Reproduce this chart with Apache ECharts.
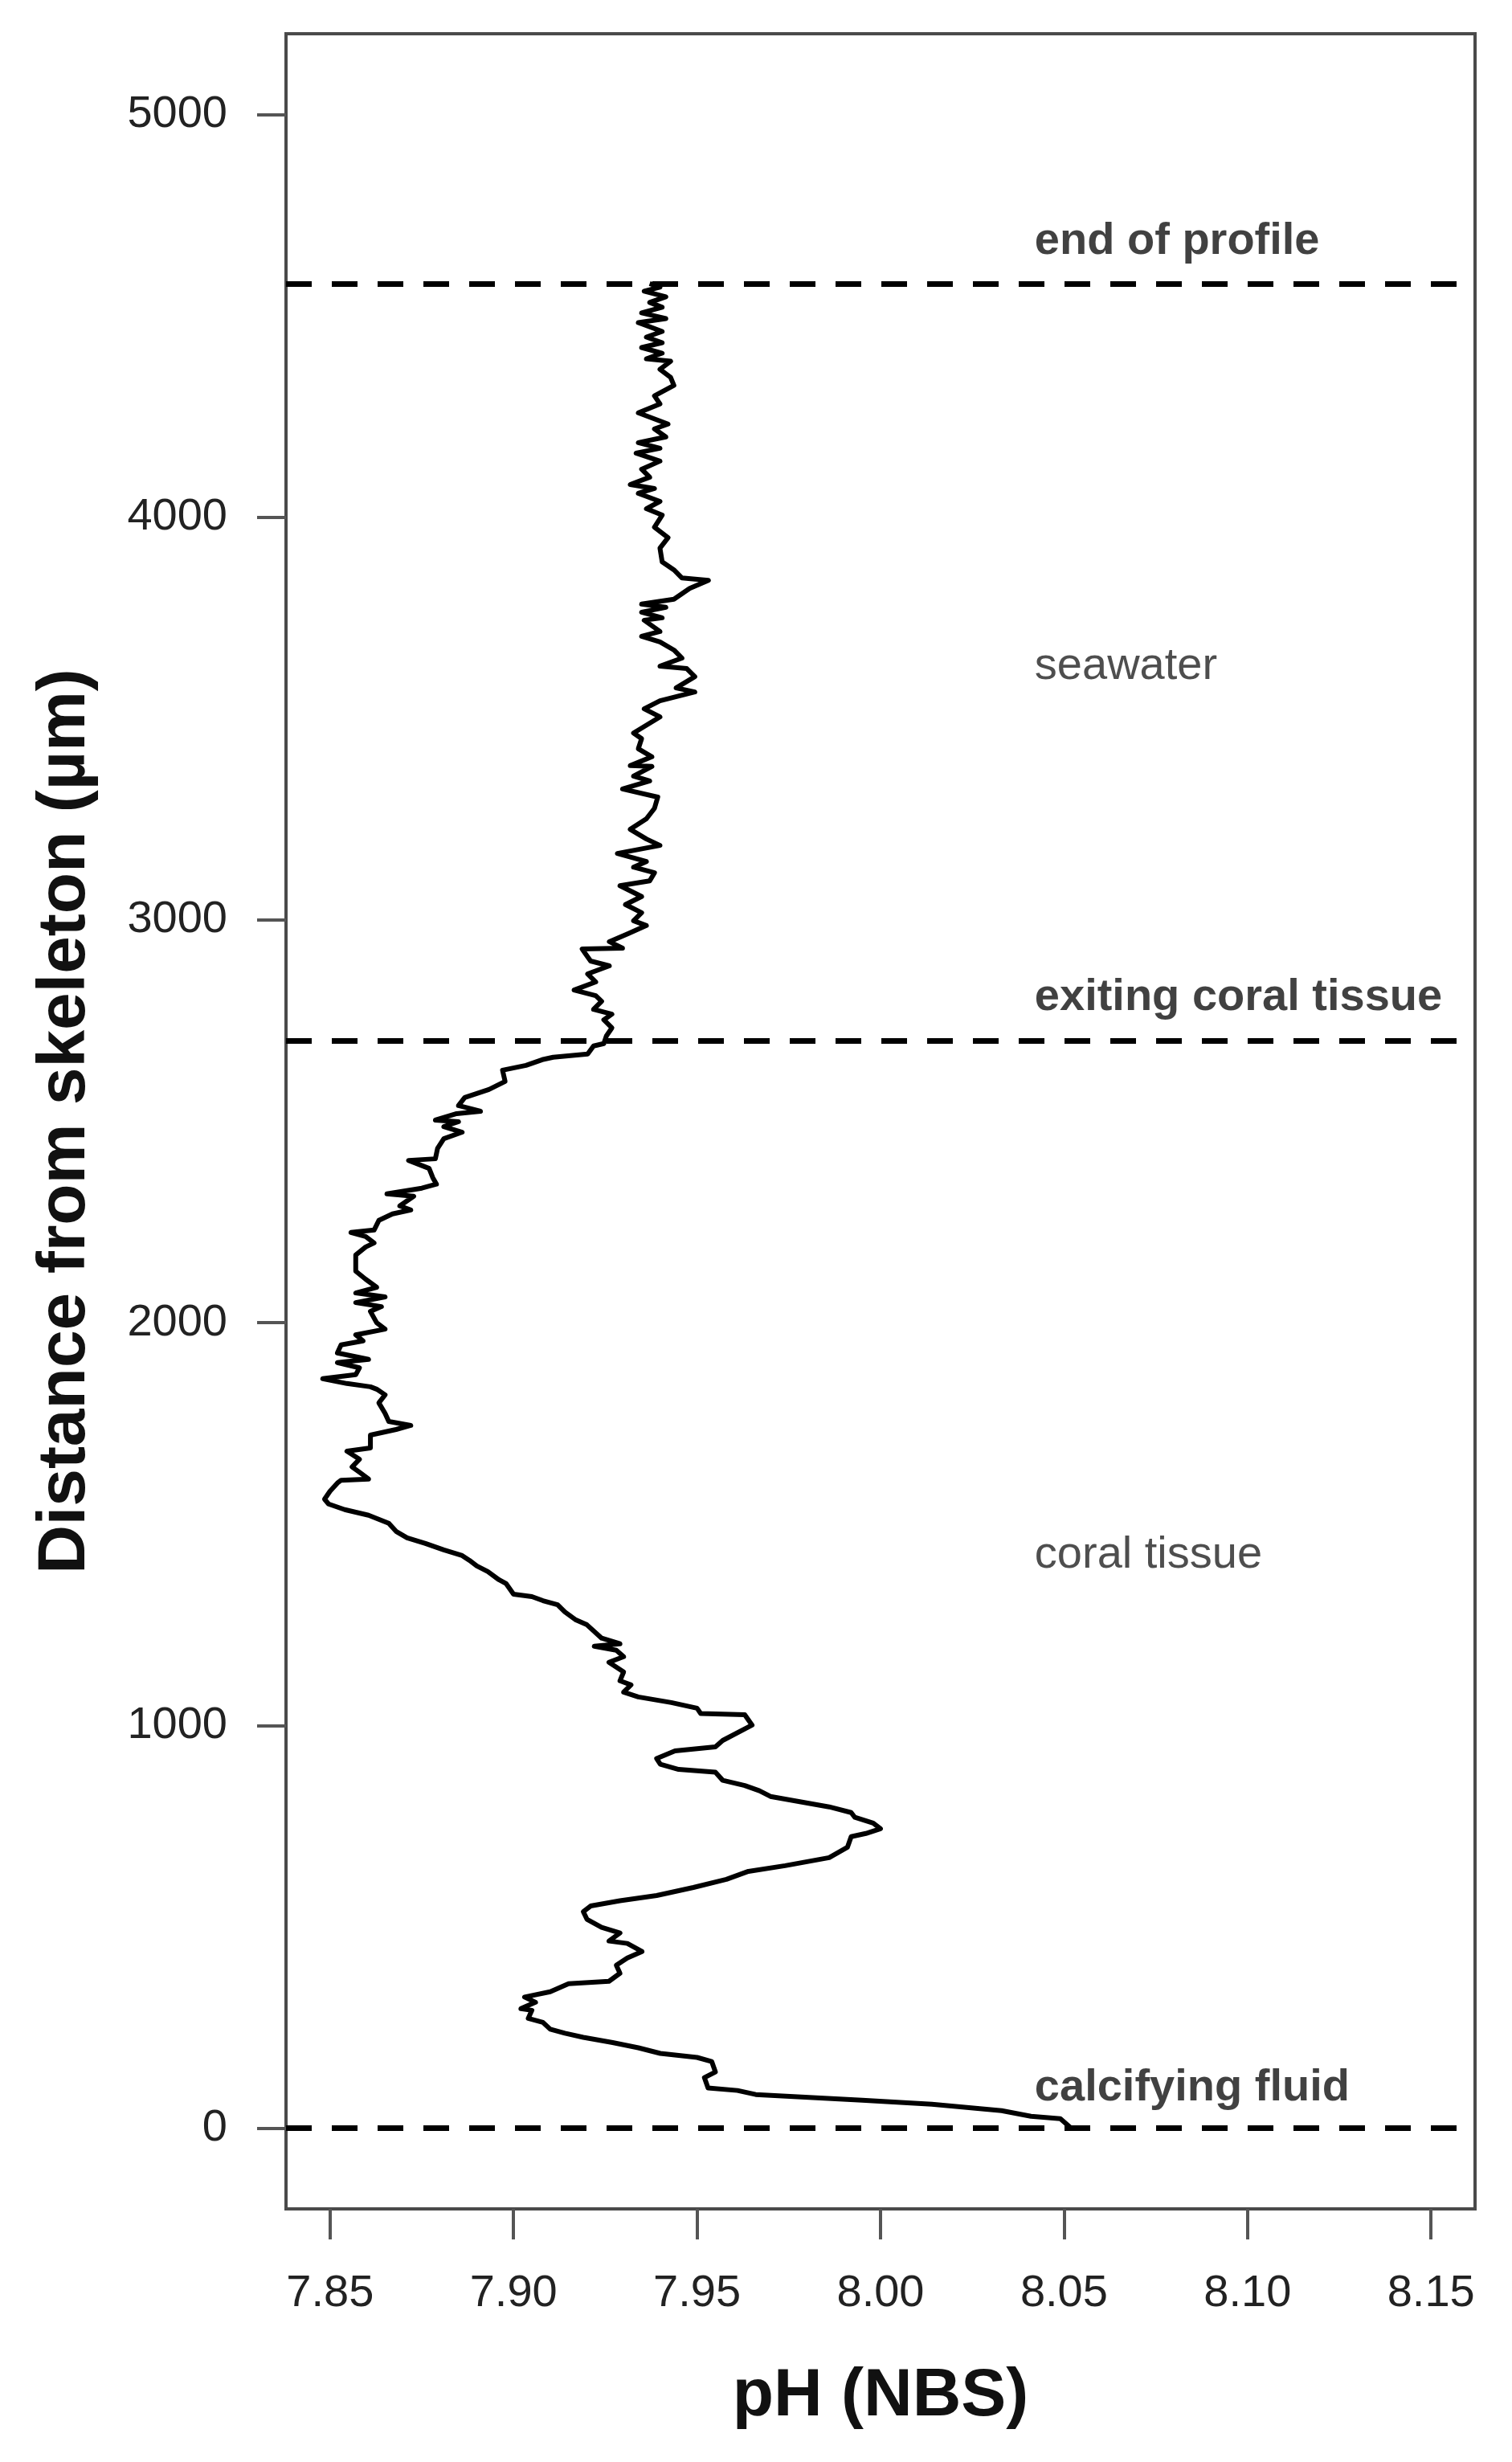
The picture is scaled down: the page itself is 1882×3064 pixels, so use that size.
<!DOCTYPE html>
<html>
<head>
<meta charset="utf-8">
<script src="https://cdn.jsdelivr.net/npm/echarts@6/dist/echarts.min.js"></script>
<style>
html,body{margin:0;padding:0;background:#fff;}
#chart{width:1882px;height:3064px;}
</style>
</head>
<body>
<div id="chart"></div>
<script>
// Distance from skeleton (µm)
const distance = [0,24,30,44,60,70,84,94,100,126,140,166,176,186,200,213,226,236,246,263,273,293,297,313,326,339,359,365,385,405,423,439,459,465,485,499,519,538,552,565,578,598,618,638,652,672,698,724,732,744,758,772,784,798,811,824,838,851,864,884,891,904,918,937,947,963,1001,1027,1030,1043,1057,1071,1083,1101,1111,1133,1157,1171,1187,1197,1203,1217,1250,1262,1282,1300,1310,1320,1326,1352,1362,1382,1396,1410,1422,1436,1452,1466,1482,1502,1522,1536,1550,1562,1582,1602,1609,1612,1629,1642,1661,1681,1689,1721,1735,1745,1755,1775,1801,1821,1835,1841,1849,1861,1871,1888,1901,1909,1925,1945,1955,1970,1984,2000,2028,2040,2050,2064,2074,2088,2108,2128,2154,2168,2188,2198,2214,2224,2230,2254,2270,2280,2290,2314,2320,2334,2344,2360,2383,2403,2407,2433,2457,2473,2487,2499,2503,2519,2525,2539,2559,2579,2599,2627,2639,2653,2659,2667,2687,2693,2712,2732,2752,2766,2778,2798,2812,2826,2846,2866,2886,2898,2916,2928,2930,2946,2966,2986,2998,3018,3038,3058,3085,3097,3117,3131,3145,3165,3185,3201,3225,3251,3277,3305,3325,3345,3357,3381,3383,3405,3425,3450,3464,3504,3524,3544,3566,3576,3604,3624,3630,3650,3670,3690,3704,3716,3744,3750,3764,3776,3784,3796,3823,3843,3849,3869,3889,3923,3949,3975,4005,4021,4039,4059,4071,4081,4099,4119,4139,4159,4171,4185,4199,4219,4231,4259,4281,4301,4327,4347,4367,4387,4393,4407,4421,4433,4447,4461,4483,4493,4507,4521,4533,4547,4561,4571,4580];
// pH (NBS)
const ph = [8.052,8.049,8.041,8.033,8.014,7.995,7.966,7.961,7.953,7.952,7.955,7.954,7.950,7.940,7.934,7.927,7.919,7.914,7.910,7.908,7.904,7.905,7.902,7.906,7.903,7.910,7.915,7.926,7.929,7.928,7.931,7.935,7.931,7.926,7.929,7.924,7.920,7.919,7.921,7.929,7.939,7.949,7.958,7.964,7.974,7.986,7.991,7.992,7.996,8.000,7.998,7.993,7.992,7.986,7.978,7.970,7.967,7.963,7.957,7.955,7.945,7.940,7.939,7.944,7.955,7.957,7.965,7.963,7.951,7.950,7.943,7.934,7.930,7.932,7.929,7.930,7.926,7.930,7.928,7.922,7.929,7.924,7.920,7.917,7.914,7.912,7.908,7.905,7.900,7.898,7.896,7.893,7.890,7.888,7.886,7.881,7.876,7.871,7.868,7.866,7.8605,7.854,7.8496,7.8485,7.850,7.852,7.853,7.8605,7.858,7.856,7.858,7.8546,7.861,7.861,7.868,7.872,7.866,7.865,7.8633,7.865,7.8627,7.861,7.8546,7.848,7.857,7.858,7.852,7.8605,7.852,7.853,7.859,7.857,7.865,7.8627,7.861,7.864,7.857,7.865,7.857,7.8627,7.8597,7.857,7.857,7.857,7.8597,7.862,7.8597,7.8557,7.862,7.8633,7.867,7.872,7.869,7.8728,7.8655,7.875,7.879,7.878,7.877,7.8714,7.8787,7.8793,7.881,7.886,7.881,7.885,7.8787,7.8845,7.891,7.885,7.8867,7.8933,7.8977,7.897,7.9034,7.9078,7.9108,7.9202,7.9218,7.9246,7.9253,7.9268,7.9246,7.9268,7.9218,7.924,7.9224,7.9165,7.9224,7.9202,7.9261,7.921,7.9196,7.9187,7.9297,7.9261,7.9312,7.9362,7.9327,7.9349,7.9305,7.9349,7.929,7.9371,7.9384,7.9327,7.9362,7.9283,7.9399,7.9362,7.9318,7.9362,7.9384,7.9393,7.9297,7.9371,7.9327,7.9377,7.9318,7.9377,7.934,7.9349,7.9327,7.9399,7.9356,7.9399,7.9494,7.9443,7.9494,7.9472,7.9399,7.9459,7.9437,7.9399,7.9349,7.9399,7.9356,7.9405,7.9349,7.9415,7.9349,7.9437,7.948,7.9531,7.9459,7.9437,7.9405,7.9399,7.9421,7.9384,7.9405,7.9362,7.9399,7.934,7.9384,7.9318,7.9371,7.9349,7.9399,7.9334,7.9399,7.934,7.9415,7.9384,7.9421,7.934,7.9399,7.9384,7.9437,7.9428,7.9399,7.9428,7.9362,7.9405,7.9349,7.9405,7.9362,7.9405,7.934,7.9415,7.9349,7.9405,7.9371,7.9415,7.9356,7.9399,7.9371];

// Axis ticks
const xTicks = [7.85, 7.90, 7.95, 8.00, 8.05, 8.10, 8.15];
const yTicks = [0, 1000, 2000, 3000, 4000, 5000];

// Dashed boundary lines (µm)
const boundaryDepths = [0, 2700, 4580];

// Annotations
const boldNotes = ['end of profile', 'exiting coral tissue', 'calcifying fluid'];
const boldNoteDepths = [4685, 2808, 100];
const plainNotes = ['seawater', 'coral tissue'];
const plainNoteDepths = [3628, 1423];
const noteX = 8.042;

const FONT = '"Liberation Sans", Arial, Helvetica, sans-serif';

const chart = echarts.init(document.getElementById('chart'), null, {renderer: 'canvas'});

const lineData = distance.map((d, i) => [ph[i], d]);

function notesSeries(texts, depths, weight, color) {
  return {
    type: 'scatter',
    symbolSize: 0,
    silent: true,
    data: texts.map((t, i) => ({value: [noteX, depths[i]], name: t})),
    label: {
      show: true,
      position: 'right',
      distance: 0,
      formatter: p => p.name,
      fontFamily: FONT,
      fontSize: 56,
      fontWeight: weight,
      color: color
    },
    z: 5
  };
}

chart.setOption({
  animation: false,
  backgroundColor: '#ffffff',
  grid: {
    left: 356, right: 46, top: 42, bottom: 315,
    show: true,
    borderColor: '#4a4a4a',
    borderWidth: 4,
    containLabel: false
  },
  xAxis: {
    type: 'value',
    min: 7.838,
    max: 8.162,
    position: 'bottom',
    name: 'pH (NBS)',
    nameLocation: 'middle',
    nameGap: 192,
    nameTextStyle: {fontFamily: FONT, fontSize: 84, fontWeight: 'bold', color: '#111'},
    axisLine: {show: false, onZero: false},
    splitLine: {show: false},
    axisTick: {show: true, inside: false, length: 38, lineStyle: {color: '#555', width: 4}, customValues: xTicks},
    axisLabel: {
      show: true, margin: 78, fontFamily: FONT, fontSize: 56, color: '#222',
      customValues: xTicks,
      formatter: v => v.toFixed(2)
    }
  },
  yAxis: {
    type: 'value',
    min: -200,
    max: 5200,
    position: 'left',
    name: 'Distance from skeleton (µm)',
    nameLocation: 'middle',
    nameGap: 232,
    nameTextStyle: {fontFamily: FONT, fontSize: 84, fontWeight: 'bold', color: '#111'},
    axisLine: {show: false, onZero: false},
    splitLine: {show: false},
    axisTick: {show: true, inside: false, length: 36, lineStyle: {color: '#555', width: 4}, customValues: yTicks},
    axisLabel: {
      show: true, margin: 73, fontFamily: FONT, fontSize: 56, color: '#222',
      customValues: yTicks,
      formatter: v => String(Math.round(v))
    }
  },
  series: [
    {
      type: 'line',
      data: lineData,
      showSymbol: false,
      symbol: 'none',
      smooth: false,
      lineStyle: {color: '#000', width: 6, join: 'round'},
      z: 3,
      markLine: {
        silent: true,
        symbol: ['none', 'none'],
        label: {show: false},
        lineStyle: {color: '#000', width: 7, type: [32, 25]},
        emphasis: {disabled: true},
        data: boundaryDepths.map(d => ({yAxis: d}))
      }
    },
    notesSeries(boldNotes, boldNoteDepths, 'bold', '#111'),
    notesSeries(plainNotes, plainNoteDepths, 'normal', '#222')
  ]
});
</script>
</body>
</html>
